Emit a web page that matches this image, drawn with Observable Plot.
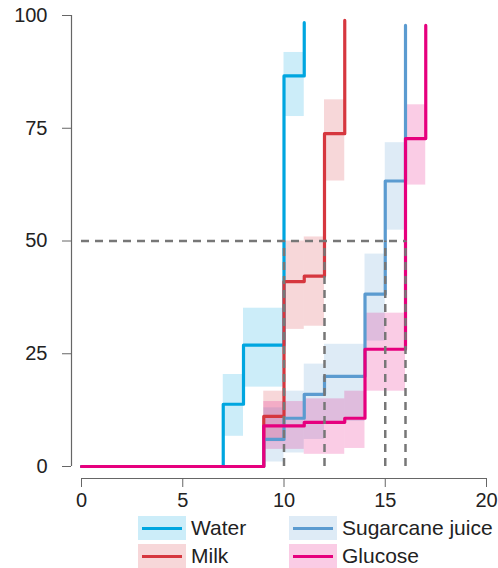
<!DOCTYPE html>
<html>
<head>
<meta charset="utf-8">
<script src="https://cdn.jsdelivr.net/npm/d3@7"></script>
<script src="https://cdn.jsdelivr.net/npm/@observablehq/plot@0.6"></script>
<style>
  body { margin: 0; background: #fff; font-family: "Liberation Sans", Arial, sans-serif; }
  #wrap { position: relative; width: 498px; height: 568px; }
  #legend { position: absolute; left: 0; top: 0; width: 498px; height: 568px; pointer-events: none; }
  .item { position: absolute; display: flex; align-items: center; font-size: 21px; color: #222; }
  .sw { width: 48px; height: 24px; position: relative; margin-right: 5px; }
  .sw i { position: absolute; left: 4px; right: 4px; top: 10.5px; height: 3.5px; }
</style>
</head>
<body>
<div id="wrap"><div id="chart"></div><div id="legend"></div></div>
<script>
// ---- data (time, cumulative %), step changes ----
const seriesNames = ["Water", "Milk", "Sugarcane juice", "Glucose"];
const seriesColors = ["#00a6e0", "#d6373f", "#5b9bd0", "#e6007e"];

const waterT = [0, 7, 8, 10, 11];
const waterY = [0, 13.8, 26.9, 86.6, 98.4];
const waterLo = [0, 6.7, 17.6, 77.6];
const waterHi = [0, 20.4, 35.1, 91.8];

const milkT = [0, 9, 10, 11, 12, 13];
const milkY = [0, 11.1, 41.0, 42.2, 73.8, 98.9];
const milkLo = [0, 5.5, 30.4, 31.1, 63.3];
const milkHi = [0, 16.7, 50.0, 50.9, 81.3];

const caneT = [0, 9, 10, 11, 12, 14, 15, 16];
const caneY = [0, 6.0, 10.7, 16.0, 20.0, 38.2, 63.3, 97.8];
const caneLo = [0, 1.0, 3.0, 6.0, 10.0, 27.8, 52.4];
const caneHi = [0, 13.0, 16.7, 22.7, 27.1, 47.1, 71.8];

const glucT = [0, 9, 11, 13, 14, 16, 17];
const glucY = [0, 9.0, 9.8, 10.7, 26.0, 72.7, 97.8];
const glucLo = [0, 3.8, 2.7, 4.0, 16.7, 62.4];
const glucHi = [0, 14.4, 15.0, 16.7, 34.0, 80.2];

const medianLevel = 50;
const medianTimes = [10, 12, 15, 16];
const xTicks = [0, 5, 10, 15, 20];
const yTicks = [0, 25, 50, 75, 100];

// ---- build tables ----
const groups = [
  [waterT, waterY, waterLo, waterHi],
  [milkT, milkY, milkLo, milkHi],
  [caneT, caneY, caneLo, caneHi],
  [glucT, glucY, glucLo, glucHi]
];
const steps = [], bands = [];
groups.forEach(([T, Y, Lo, Hi], g) => {
  T.forEach((t, i) => steps.push({series: seriesNames[g], t, y: Y[i]}));
  for (let i = 1; i < Lo.length; i++) {
    bands.push({series: seriesNames[g], t1: T[i], t2: T[i + 1], lo: Lo[i], hi: Hi[i]});
  }
});
const dashH = [{x1: 0, x2: d3.max(medianTimes), y: medianLevel}];
const dashV = medianTimes.map(t => ({x: t, y1: 0, y2: medianLevel}));

const color = {domain: seriesNames, range: seriesColors};

const chart = Plot.plot({
  width: 498, height: 512,
  marginLeft: 81, marginRight: 12, marginTop: 15, marginBottom: 46,
  style: {fontFamily: "Liberation Sans, Arial, sans-serif", fontSize: "20px", color: "#222", background: "#fff"},
  x: {domain: [0, 20], axis: null},
  y: {domain: [0, 100], axis: null},
  color,
  marks: [
    Plot.rect(bands, {x1: "t1", x2: "t2", y1: "lo", y2: "hi", fill: "series", fillOpacity: 0.2}),
    ...seriesNames.map(s => Plot.line(steps.filter(d => d.series === s), {x: "t", y: "y", stroke: "series", strokeWidth: 3.2, curve: "step-after"})),
    Plot.ruleY(dashH, {x1: "x1", x2: "x2", y: "y", stroke: "#777", strokeWidth: 2.5, strokeDasharray: "8,6"}),
    Plot.ruleX(dashV, {x: "x", y1: "y1", y2: "y2", stroke: "#777", strokeWidth: 2.5, strokeDasharray: "8,6"}),
    // y axis (offset left)
    Plot.ruleX([0], {y1: 0, y2: 100, dx: -10, stroke: "#666", strokeWidth: 1.2}),
    Plot.axisY(yTicks, {dx: -10, tickSize: 9, tickPadding: 15, stroke: "#666", fontSize: 20, fill: "#222"}),
    // x axis (offset down)
    Plot.ruleY([0], {x1: 0, x2: 20, dy: 12, stroke: "#666", strokeWidth: 1.2}),
    Plot.axisX(xTicks, {dy: 12, tickSize: 9, tickPadding: 5, stroke: "#666", fontSize: 20, fill: "#222"})
  ]
});
document.getElementById("chart").appendChild(chart);

// ---- legend ----
const legendPos = [[138, 516], [138, 544], [289, 516], [289, 544]];
const legend = document.getElementById("legend");
seriesNames.forEach((s, i) => {
  const div = document.createElement("div");
  div.className = "item";
  div.style.left = legendPos[i][0] + "px";
  div.style.top = legendPos[i][1] + "px";
  const sw = document.createElement("div");
  sw.className = "sw";
  const c = d3.color(seriesColors[i]); c.opacity = 0.2;
  sw.style.background = c.formatRgb();
  const ln = document.createElement("i");
  ln.style.background = seriesColors[i];
  sw.appendChild(ln);
  div.appendChild(sw);
  const lab = document.createElement("span");
  lab.textContent = s;
  div.appendChild(lab);
  legend.appendChild(div);
});
</script>
</body>
</html>
